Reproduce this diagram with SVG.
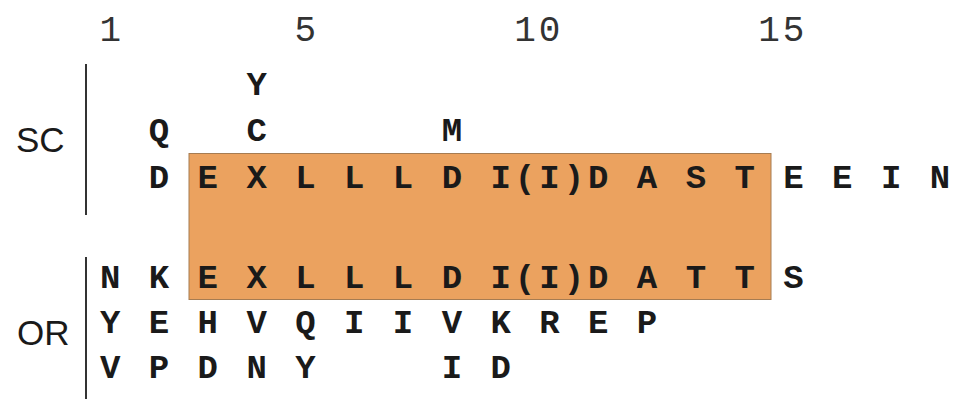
<svg xmlns="http://www.w3.org/2000/svg" width="954" height="399" viewBox="0 0 954 399">
<style>
.seq{font-family:"Liberation Mono","DejaVu Sans Mono",monospace;font-weight:bold;font-size:34px;letter-spacing:4px;fill:#1a1a1a;white-space:pre}
.num{font-family:"Liberation Mono","DejaVu Sans Mono",monospace;font-size:36px;letter-spacing:2.8px;fill:#333;white-space:pre}
.lab{font-family:"Liberation Sans",Arial,sans-serif;font-size:35px;fill:#1a1a1a}
.bar{stroke:#333;stroke-width:2}
</style>
<rect id="box" x="189" y="153.5" width="582" height="146" fill="#EBA25F" stroke="#A67C52" stroke-width="1"/>
<g id="numbers"><text class="num" x="99.4" y="41" xml:space="preserve">1       5        10        15</text></g>
<g id="sc">
<text class="lab" x="16" y="152">SC</text>
<line class="bar" x1="86" y1="64" x2="86" y2="215"/>
<text class="seq" x="100" y="95" xml:space="preserve">      Y</text>
<text class="seq" x="100" y="141" xml:space="preserve">  Q   C       M</text>
<text class="seq" x="100" y="188" xml:space="preserve">  D E X L L L D I(I)D A S T E E I N</text>
</g>
<g id="or">
<text class="lab" x="17" y="345">OR</text>
<line class="bar" x1="86" y1="257" x2="86" y2="399"/>
<text class="seq" x="100" y="288" xml:space="preserve">N K E X L L L D I(I)D A T T S</text>
<text class="seq" x="100" y="333" xml:space="preserve">Y E H V Q I I V K R E P</text>
<text class="seq" x="100" y="378" xml:space="preserve">V P D N Y     I D</text>
</g>
</svg>
